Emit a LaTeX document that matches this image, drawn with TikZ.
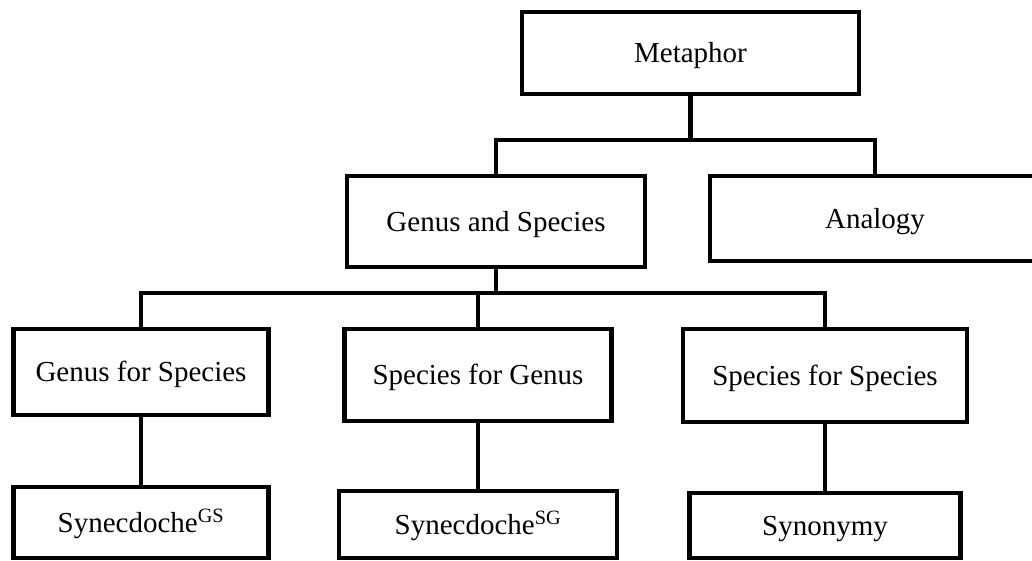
\documentclass[tikz,border=0pt]{standalone}
\usepackage{fontspec}
\setmainfont{Liberation Serif}
\begin{document}
\begin{tikzpicture}[x=1pt,y=-1pt,
  box/.style={draw=black,line width=4.5pt,rectangle,inner sep=0pt,outer sep=0pt,
    font=\fontsize{29}{34}\selectfont,text height=19pt,text depth=0pt,align=center},
  conn/.style={draw=black,line width=4.5pt}]
\useasboundingbox (0,0) rectangle (1032,560);
\clip (0,0) rectangle (1032,560);
\node[box,minimum width=337pt,minimum height=82pt] (met) at (690.5,53) {Metaphor};
\node[box,minimum width=298pt,minimum height=91pt] (gs) at (496,221.5) {Genus and Species};
\node[box,minimum width=330pt,minimum height=85pt] (an) at (875,218.5) {Analogy};
\node[box,minimum width=255pt,minimum height=86pt] (gfs) at (141,372) {Genus for Species};
\node[box,minimum width=267pt,minimum height=92pt] (sfg) at (478,375) {Species for Genus};
\node[box,minimum width=284pt,minimum height=93pt] (sfs) at (825,375.5) {Species for Species};
\node[box,minimum width=255pt,minimum height=71pt] (syngs) at (141,522.5) {Synecdoche\textsuperscript{GS}};
\node[box,minimum width=278pt,minimum height=67pt] (synsg) at (478,524.5) {Synecdoche\textsuperscript{SG}};
\node[box,minimum width=271pt,minimum height=65pt] (synon) at (825,525.5) {Synonymy};
\coordinate (j1) at (690.5,140);
\coordinate (j2) at (496,293);
\draw[conn] (met.south) -- (j1);
\draw[conn] (gs.north) |- (j1) -| (an.north);
\draw[conn] (gs.south) -- (j2);
\draw[conn] (gfs.north) |- (j2) -| (sfs.north);
\draw[conn] (sfg.north) -- (sfg.north |- j2);
\draw[conn] (gfs.south) -- (syngs.north);
\draw[conn] (sfg.south) -- (synsg.north);
\draw[conn] (sfs.south) -- (synon.north);
\end{tikzpicture}
\end{document}
